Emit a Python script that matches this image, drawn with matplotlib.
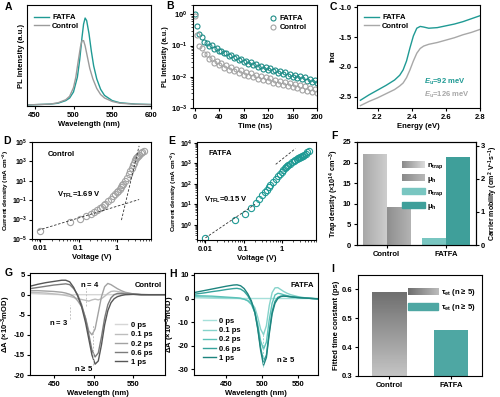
import numpy as np
import matplotlib
matplotlib.use("Agg")
import matplotlib.pyplot as plt
from matplotlib.colors import LinearSegmentedColormap
from matplotlib.legend_handler import HandlerBase
from matplotlib.image import BboxImage
from matplotlib.transforms import Bbox, TransformedBbox
from matplotlib.patches import Patch

plt.rcParams.update({
    "font.family": ["Liberation Sans", "DejaVu Sans"],
    "font.weight": "bold",
    "axes.labelweight": "bold",
    "font.size": 5.5,
    "axes.linewidth": 0.8,
    "axes.unicode_minus": False,
    "xtick.major.width": 0.8, "ytick.major.width": 0.8,
    "xtick.minor.width": 0.5, "ytick.minor.width": 0.5,
    "xtick.major.size": 2.5, "ytick.major.size": 2.5,
    "xtick.minor.size": 1.4, "ytick.minor.size": 1.4,
    "xtick.major.pad": 1.5, "ytick.major.pad": 1.5,
    "axes.labelpad": 1.5,
    "mathtext.fontset": "custom",
    "mathtext.rm": "Liberation Sans:bold",
    "mathtext.bf": "Liberation Sans:bold",
    "mathtext.it": "Liberation Sans:italic:bold",
    "mathtext.default": "rm",
    "legend.frameon": False,
    "legend.fontsize": 5.5,
})

TEAL = "#1f9a94"
GRAY = "#9b9b9b"

# ---------------- data ----------------
# A: PL spectra
pl_wl_fatfa = [440, 470, 480, 490, 495, 500, 505, 508, 511, 513, 515, 517, 520, 523, 526, 530, 535, 540, 550, 560, 580, 600]
pl_fatfa = [0.0, 0.01, 0.02, 0.05, 0.08, 0.15, 0.32, 0.52, 0.78, 0.93, 1.0, 0.97, 0.82, 0.62, 0.45, 0.30, 0.18, 0.11, 0.05, 0.025, 0.01, 0.005]
pl_wl_ctrl = [440, 470, 480, 490, 495, 500, 503, 506, 509, 511, 513, 515, 518, 521, 525, 530, 535, 540, 550, 560, 580, 600]
pl_ctrl = [0.0, 0.01, 0.025, 0.06, 0.10, 0.20, 0.32, 0.50, 0.67, 0.74, 0.74, 0.68, 0.55, 0.42, 0.30, 0.19, 0.12, 0.08, 0.04, 0.02, 0.008, 0.004]

# B: TRPL decay
trpl_t = list(range(0, 201, 4))
trpl_fatfa = [1.00, 0.42, 0.24, 0.19, 0.135, 0.125, 0.098, 0.101, 0.080, 0.083, 0.066, 0.069, 0.057, 0.056,
              0.047, 0.050, 0.040, 0.044, 0.035, 0.038, 0.030, 0.033, 0.026, 0.029, 0.024, 0.025, 0.020,
              0.023, 0.018, 0.021, 0.0165, 0.0185, 0.0148, 0.0168, 0.0133, 0.0150, 0.0121, 0.0138, 0.0108,
              0.0125, 0.0100, 0.0114, 0.0091, 0.0103, 0.0083, 0.0096, 0.0076, 0.0088, 0.0070, 0.0080, 0.0064]
trpl_ctrl = [0.90, 0.22, 0.10, 0.082, 0.052, 0.053, 0.037, 0.040, 0.028, 0.033, 0.024, 0.027, 0.019, 0.024,
             0.016, 0.021, 0.015, 0.018, 0.013, 0.016, 0.0118, 0.0145, 0.0105, 0.0130, 0.0096, 0.0118,
             0.0086, 0.0107, 0.0078, 0.0098, 0.0071, 0.0089, 0.0065, 0.0081, 0.0059, 0.0074, 0.0054,
             0.0068, 0.0050, 0.0062, 0.0046, 0.0058, 0.0043, 0.0053, 0.0039, 0.0049, 0.0036, 0.0045,
             0.0033, 0.0041, 0.0031]

# C: absorption (ln alpha)
abs_e = [2.10, 2.15, 2.20, 2.25, 2.30, 2.33, 2.35, 2.37, 2.39, 2.41, 2.43, 2.45, 2.47, 2.50, 2.55, 2.60, 2.65, 2.70, 2.75, 2.80]
abs_fatfa = [-2.56, -2.47, -2.39, -2.31, -2.22, -2.14, -2.05, -1.90, -1.68, -1.48, -1.35, -1.32, -1.33, -1.35, -1.34, -1.31, -1.28, -1.24, -1.19, -1.14]
abs_ctrl = [-2.65, -2.58, -2.52, -2.45, -2.38, -2.32, -2.27, -2.18, -2.05, -1.90, -1.77, -1.69, -1.65, -1.62, -1.59, -1.55, -1.51, -1.46, -1.42, -1.37]

# D/E: SCLC
sclc_v = [0.01, 0.06, 0.11, 0.16, 0.21, 0.26, 0.31, 0.36, 0.41, 0.46, 0.51, 0.61, 0.71, 0.81, 0.91, 1.01,
          1.11, 1.21, 1.31, 1.41, 1.51, 1.71, 1.91, 2.11, 2.31, 2.51, 2.71, 2.91, 3.11, 3.31, 3.51, 3.71,
          3.91, 4.31, 4.71, 5.3]
sclc_ctrl_log = [-4.14, -3.27, -2.9, -2.66, -2.38, -2.2, -2.0, -1.85, -1.65, -1.5, -1.35, -1.1, -0.85, -0.6,
                 -0.4, -0.2, 0.0, 0.18, 0.35, 0.52, 0.68, 0.98, 1.3, 1.65, 2.0, 2.3, 2.6, 2.85, 3.1, 3.3,
                 3.45, 3.58, 3.68, 3.82, 3.95, 4.1]
sclc_fatfa_log = [-0.64, 0.21, 0.54, 0.82, 1.08, 1.28, 1.45, 1.6, 1.72, 1.84, 1.94, 2.1, 2.25, 2.38, 2.5,
                  2.6, 2.68, 2.75, 2.81, 2.86, 2.9, 2.98, 3.05, 3.11, 3.16, 3.2, 3.24, 3.28, 3.3, 3.32,
                  3.35, 3.38, 3.41, 3.47, 3.53, 3.62]
ctrl_ohm_v, ctrl_ohm_log = [0.0087, 3.9], [-4.1, -0.93]
ctrl_tfl_v, ctrl_tfl_log = [1.34, 3.9], [-3.05, 4.6]
fatfa_ohm_v, fatfa_ohm_log = [0.01, 0.2], [-0.64, 1.0]
fatfa_tfl_v, fatfa_tfl_log = [0.7, 2.3], [2.95, 3.72]

# F: trap density / mobility
groups = ["Control", "FATFA"]
n_trap = [22.0, 1.7]
mu_h = [1.14, 2.67]

# G/H: transient absorption
ta_times = ["0 ps", "0.1 ps", "0.2 ps", "0.6 ps", "1 ps"]
g_wl = [420, 430, 440, 450, 460, 465, 470, 475, 480, 485, 490, 494, 498, 502, 506, 510, 514, 518, 522, 526, 530, 535, 540, 550, 560, 570, 590]
g_spec = [
    [0.3, 0.2, 0.1, 0.05, 0.0, 0.0, 0.0, 0.0, 0.0, 0.0, 0.0, 0.0, 0.0, 0.0, 0.0, 0.0, 0.0, 0.0, 0.0, 0.0, 0.0, 0.0, 0.0, 0.0, 0.0, 0.0, 0.0],
    [0.6, 0.5, 0.4, 0.2, 0.0, -0.2, -0.4, -0.7, -1.0, -1.2, -1.4, -1.6, -1.3, -1.1, -1.3, -1.0, -0.4, 0.3, 0.8, 0.9, 0.8, 0.6, 0.4, 0.2, 0.1, 0.0, 0.0],
    [1.0, 1.0, 0.9, 0.8, 0.6, 0.4, 0.1, -0.4, -1.5, -3.0, -5.8, -9.0, -10.0, -8.5, -4.5, -0.5, 2.0, 2.8, 2.5, 2.0, 1.5, 1.0, 0.6, 0.2, 0.0, 0.0, 0.0],
    [1.5, 1.8, 2.1, 2.4, 2.6, 2.7, 2.5, 1.5, 0.0, -2.5, -6.0, -9.8, -13.8, -15.5, -14.5, -10.5, -5.8, -2.5, -0.8, 0.0, 0.3, 0.3, 0.2, 0.1, 0.0, 0.0, 0.0],
    [2.1, 2.6, 3.0, 3.3, 3.6, 3.6, 3.2, 1.8, -0.3, -3.0, -7.0, -11.0, -15.0, -17.3, -16.5, -12.5, -7.5, -4.0, -2.0, -1.0, -0.5, -0.2, 0.0, 0.1, 0.0, 0.0, 0.0],
]
h_wl = [405, 420, 430, 440, 450, 460, 465, 470, 475, 480, 485, 490, 494, 498, 502, 506, 510, 514, 518, 522, 526, 530, 535, 540, 550, 560, 570, 580]
h_spec = [
    [0.3, 0.2, 0.1, 0.05, 0.0, 0.0, 0.0, 0.0, 0.0, 0.0, 0.0, 0.0, 0.0, 0.0, 0.0, 0.0, 0.0, 0.0, 0.0, 0.0, 0.0, 0.0, 0.0, 0.0, 0.0, 0.0, 0.0, 0.0],
    [0.8, 0.7, 0.6, 0.5, 0.3, 0.2, 0.1, 0.0, -0.3, -0.8, -1.8, -4.0, -8.0, -13.0, -15.3, -11.5, -3.0, 2.5, 4.5, 4.6, 3.8, 3.0, 2.2, 1.6, 0.8, 0.3, 0.0, -0.2],
    [1.2, 1.1, 1.0, 0.8, 0.6, 0.4, 0.3, 0.1, -0.3, -1.0, -2.5, -6.0, -11.0, -18.0, -21.5, -18.5, -9.0, -2.0, 1.5, 2.2, 2.0, 1.6, 1.2, 0.9, 0.5, 0.2, 0.0, -0.1],
    [1.8, 2.4, 2.9, 3.3, 3.8, 4.2, 4.3, 4.0, 3.0, 1.2, -1.5, -6.0, -12.5, -21.0, -26.5, -24.0, -14.0, -5.5, -1.2, 0.5, 1.0, 1.1, 0.9, 0.7, 0.4, 0.2, 0.0, -0.2],
    [2.5, 3.4, 4.0, 4.6, 5.2, 5.7, 5.8, 5.4, 4.2, 2.0, -1.0, -6.0, -13.0, -22.0, -28.3, -25.0, -15.0, -6.5, -2.0, 0.0, 0.8, 1.0, 0.9, 0.7, 0.4, 0.2, 0.0, -0.2],
]
g_colors = ["#d6d6d6", "#bdbdbd", "#a2a2a2", "#7c7c7c", "#575757"]
h_colors = ["#a6e0da", "#86d3cb", "#5cc2b9", "#36a39c", "#1d847e"]
g_mark_wl = [471, 490, 499]
g_mark_top = [-2.5, 1.7, -7.5]
g_mark_bot = [-6.0, -2.9, -17.5]

# I: fitted time constant
tau_et = [0.59, 0.46]

# ---------------- helpers ----------------
fig = plt.figure(figsize=(5, 3.97), dpi=100)


def box(l, t, r, b):
    return fig.add_axes([l / 500, 1 - b / 397, (r - l) / 500, (b - t) / 397])


def cmap2(c1, c2):
    return LinearSegmentedColormap.from_list("g", [c1, c2])


class GradHandler(HandlerBase):
    def __init__(self, cmap):
        super().__init__()
        self.cmap = cmap

    def create_artists(self, legend, orig_handle, xdescent, ydescent, width, height, fontsize, trans):
        bb = TransformedBbox(Bbox.from_bounds(-xdescent, -ydescent, width, height), trans)
        img = BboxImage(bb, cmap=self.cmap, interpolation="bilinear")
        img.set_data(np.linspace(0, 1, 64).reshape(1, -1))
        img.set_clim(0, 1)
        return [img]


def grad_fill(ax, bars, cmap, vertical=False):
    y0 = ax.get_ylim()[0]
    for p in bars:
        x, y, w, h = p.get_x(), p.get_y(), p.get_width(), p.get_height()
        g = np.linspace(0, 1, 64).reshape(-1, 1) if vertical else np.linspace(0, 1, 64).reshape(1, -1)
        im = ax.imshow(g, extent=[x, x + w, max(y, y0), y + h], origin="lower", aspect="auto",
                       cmap=cmap, zorder=2, vmin=0, vmax=1)
        im.set_clip_path(p)


# ---------------- A ----------------
axA = box(27, 5, 151, 106)
axA.plot(pl_wl_fatfa, pl_fatfa, color=TEAL, lw=1.0, label="FATFA")
axA.plot(pl_wl_ctrl, pl_ctrl, color=GRAY, lw=1.0, label="Control")
axA.set_xlim(440, 600)
axA.set_ylim(-0.012, 1.15)
axA.set_yticks([])
axA.set_xticks([450, 500, 550, 600])
axA.set_xlabel("Wavelength (nm)")
axA.set_ylabel("PL Intensity (a.u.)")
axA.legend(loc="upper left", bbox_to_anchor=(0.0, 0.98), handlelength=2.0, handletextpad=0.4, labelspacing=0.2)

# ---------------- B ----------------
axB = box(193, 5, 317, 108)
axB.plot(trpl_t, trpl_fatfa, "o", mfc="none", mec="#1d8c87", ms=3.6, mew=0.8, label="FATFA")
axB.plot(trpl_t, trpl_ctrl, "o", mfc="none", mec="#a3a3a3", ms=3.6, mew=0.8, label="Control")
axB.set_yscale("log")
axB.set_xlim(-2.5, 200)
axB.set_ylim(1e-3, 2)
axB.set_xticks([0, 40, 80, 120, 160, 200])
axB.set_yticks([1e-3, 1e-2, 1e-1, 1])
axB.set_xlabel("Time (ns)")
axB.set_ylabel("PL Intensity (a.u.)", fontsize=5.2)
axB.legend(loc="upper right", bbox_to_anchor=(0.97, 0.97), handlelength=1.0, handletextpad=0.3, labelspacing=0.2)

# ---------------- C ----------------
axC = box(357, 5, 480, 108)
axC.plot(abs_e, abs_fatfa, color=TEAL, lw=1.0, label="FATFA")
axC.plot(abs_e, abs_ctrl, color="#a8a8a8", lw=1.0, label="Control")
axC.set_xlim(2.08, 2.8)
axC.set_ylim(-2.69, -0.96)
axC.set_xticks([2.2, 2.4, 2.6, 2.8])
axC.set_yticks([-2.5, -2.0, -1.5, -1.0])
axC.set_xlabel("Energy (eV)")
axC.set_ylabel("ln\u03b1")
axC.legend(loc="upper left", bbox_to_anchor=(0.0, 0.98), handlelength=2.0, handletextpad=0.4, labelspacing=0.2)
axC.text(2.47, -2.25, r"$\it{E}_{\rm u}$=92 meV", color=TEAL, va="center")
axC.text(2.47, -2.47, r"$\it{E}_{\rm u}$=126 meV", color="#a8a8a8", va="center")

# ---------------- D ----------------
axD = box(32, 142, 151, 239)
axD.plot(sclc_v, 10 ** np.array(sclc_ctrl_log), "o", mfc="none", mec="#a3a3a3", ms=4.5, mew=0.8)
axD.plot(ctrl_ohm_v, 10 ** np.array(ctrl_ohm_log), "--", color="#333333", lw=0.6, dashes=(3, 2))
axD.plot(ctrl_tfl_v, 10 ** np.array(ctrl_tfl_log), "--", color="#333333", lw=0.6, dashes=(3, 2))
axD.set_xscale("log")
axD.set_yscale("log")
axD.set_xlim(0.006, 8)
axD.set_ylim(1e-5, 1e5)
axD.set_xticks([0.01, 0.1, 1])
axD.set_xticklabels(["0.01", "0.1", "1"])
axD.set_yticks([1e-5, 1e-3, 1e-1, 1e1, 1e3, 1e5])
axD.tick_params(axis="y", labelsize=5, pad=1)
axD.set_xlabel("Voltage (V)")
axD.set_ylabel("Current density (mA cm$^{-2}$)", fontsize=4.6, labelpad=0.5)
axD.text(0.0155, 10 ** 3.75, "Control", va="center")
axD.text(0.028, 10 ** -0.5, r"V$_{\rm TFL}$=1.69 V", va="center")

# ---------------- E ----------------
axE = box(197, 142, 316, 240)
axE.plot(sclc_v, 10 ** np.array(sclc_fatfa_log), "o", mfc="none", mec=TEAL, ms=4.5, mew=0.8)
axE.plot(fatfa_ohm_v, 10 ** np.array(fatfa_ohm_log), "--", color="#333333", lw=0.6, dashes=(3, 2))
axE.plot(fatfa_tfl_v, 10 ** np.array(fatfa_tfl_log), "--", color="#333333", lw=0.6, dashes=(3, 2))
axE.set_xscale("log")
axE.set_yscale("log")
axE.set_xlim(0.006, 8)
axE.set_ylim(0.18, 1.1e4)
axE.set_xticks([0.01, 0.1, 1])
axE.set_xticklabels(["0.01", "0.1", "1"])
axE.set_yticks([1, 1e1, 1e2, 1e3, 1e4])
axE.tick_params(axis="y", labelsize=5, pad=1)
axE.set_xlabel("Voltage (V)")
axE.set_ylabel("Current density (mA cm$^{-2}$)", fontsize=4.6, labelpad=0.5)
axE.text(0.0117, 10 ** 3.5, "FATFA", va="center")
axE.text(0.0093, 10 ** 1.23, r"V$_{\rm TFL}$=0.15 V", va="center")

# ---------------- F ----------------
axF = box(357, 142, 476, 245)
axF2 = axF.twinx()
x = np.arange(len(groups))
w = 0.4
axF.set_xlim(-0.5, 1.5)
axF.set_ylim(0, 25)
axF2.set_ylim(0, 3.12)
b1 = axF.bar(x[:1] - w / 2, n_trap[:1], w, facecolor="none", edgecolor="none")
b2 = axF2.bar(x[:1] + w / 2, mu_h[:1], w, facecolor="none", edgecolor="none")
cm_n = cmap2("#a9a9a9", "#cdcdcd")
cm_mu = cmap2("#8f8f8f", "#b3b3b3")
grad_fill(axF, b1, cm_n)
grad_fill(axF2, b2, cm_mu)
axF.bar(x[1:] - w / 2, n_trap[1:], w, color="#79c6c1")
axF2.bar(x[1:] + w / 2, mu_h[1:], w, color="#3f9f9a")
axF.set_xlim(-0.5, 1.5)
axF.set_ylim(0, 25)
axF2.set_ylim(0, 3.12)
axF.set_xticks(x)
axF.set_xticklabels(groups)
axF.set_yticks([0, 5, 10, 15, 20, 25])
axF2.set_yticks([0, 1, 2, 3])
axF2.tick_params(axis="y", pad=1)
axF.set_ylabel("Trap density (\u00d710$^{14}$ cm$^{-3}$)", fontsize=5.2)
axF2.set_ylabel("Carrier mobility (cm$^2$ V$^{-1}$s$^{-1}$)", fontsize=5.0, labelpad=0.8)
hF = [Patch(), Patch(), Patch(color="#79c6c1"), Patch(color="#3f9f9a")]
axF2.legend(hF, ["n$_{\\rm trap}$", "\u03bc$_{\\rm h}$", "n$_{\\rm trap}$", "\u03bc$_{\\rm h}$"],
            handler_map={hF[0]: GradHandler(cmap2("#8a8a8a", "#dcdcdc")),
                         hF[1]: GradHandler(cmap2("#8a8a8a", "#b8b8b8"))},
            loc="upper left", bbox_to_anchor=(0.32, 0.88), handlelength=3.0, handleheight=0.9,
            handletextpad=0.3, labelspacing=0.45)

# ---------------- G ----------------
axG = box(30, 273, 165, 375)
for lab, spec, c in zip(ta_times, g_spec, g_colors):
    axG.plot(g_wl, spec, color=c, lw=1.0, label=lab)
axG.vlines(g_mark_wl, g_mark_bot, g_mark_top, colors="#c4c4c4", linestyles=(0, (2, 1.5)), lw=0.7)
axG.set_xlim(420, 590)
axG.set_ylim(-20, 5.4)
axG.set_xticks([450, 500, 550])
axG.set_yticks([-20, -15, -10, -5, 0, 5])
axG.tick_params(axis="y", pad=1)
axG.set_xlabel("Wavelength (nm)")
axG.set_ylabel("\u0394A (\u00d710$^{-3}$mOD)", labelpad=0.5)
axG.legend(loc="lower left", bbox_to_anchor=(0.58, 0.02), handlelength=1.6, handletextpad=0.5, labelspacing=0.25)
axG.text(0.98, 0.88, "Control", transform=axG.transAxes, ha="right", va="center")
axG.text(495, 2.6, r"$n$ = 4", ha="center", va="center")
axG.text(468, -7.0, r"$n$ = 3", ha="right", va="center")
axG.text(487, -18.3, r"$n$ ≥ 5", ha="center", va="center")

# ---------------- H ----------------
axH = box(194, 273, 318, 375)
for lab, spec, c in zip(ta_times, h_spec, h_colors):
    axH.plot(h_wl, spec, color=c, lw=1.0, label=lab)
axH.vlines([501], [-29.0], [-15.0], colors="#9fd8d2", linestyles=(0, (2, 1.5)), lw=0.7)
axH.set_xlim(405, 578)
axH.set_ylim(-32.4, 10.8)
axH.set_xticks([450, 500, 550])
axH.set_yticks([-30, -20, -10, 0, 10])
axH.tick_params(axis="y", pad=1)
axH.set_xlabel("Wavelength (nm)")
axH.set_ylabel("\u0394A (\u00d710$^{-3}$mOD)", labelpad=0.5)
axH.legend(loc="lower left", bbox_to_anchor=(0.02, 0.06), handlelength=1.6, handletextpad=0.5, labelspacing=0.25)
axH.text(0.97, 0.88, "FATFA", transform=axH.transAxes, ha="right", va="center")
axH.text(520, -25.5, r"$n$ ≥ 5", ha="left", va="center")

# ---------------- I ----------------
axI = box(358, 275, 482, 376)
axI.set_xlim(-0.5, 1.5)
axI.set_ylim(0.3, 0.65)
bI = axI.bar([0], tau_et[:1], 0.55, facecolor="none", edgecolor="none")
grad_fill(axI, bI, cmap2("#c4c4c4", "#707070"), vertical=True)
axI.bar([1], tau_et[1:], 0.55, color="#4ea7a3")
axI.set_xlim(-0.5, 1.5)
axI.set_ylim(0.3, 0.65)
axI.set_xticks([0, 1])
axI.set_xticklabels(groups)
axI.set_yticks([0.3, 0.4, 0.5, 0.6])
axI.set_ylabel("Fitted time constant (ps)")
hI = [Patch(), Patch(color="#4ea7a3")]
axI.legend(hI, ["\u03c4$_{\\rm et}$ ($n$ ≥ 5)"] * 2,
           handler_map={hI[0]: GradHandler(cmap2("#6e6e6e", "#bcbcbc"))},
           loc="upper right", bbox_to_anchor=(1.0, 0.96), handlelength=4.0, handleheight=1.0,
           handletextpad=0.3, labelspacing=0.4)

# panel letters
for lab, px, py in [("A", 5, 2), ("B", 166, 1), ("C", 330, 2), ("D", 3, 136), ("E", 168, 136),
                    ("F", 331, 131), ("G", 5, 268), ("H", 169, 269), ("I", 331, 264)]:
    fig.text(px / 500, 1 - py / 397, lab, fontsize=7.5, fontweight="bold", va="top", ha="left")

fig.savefig("out.png", dpi=100)
